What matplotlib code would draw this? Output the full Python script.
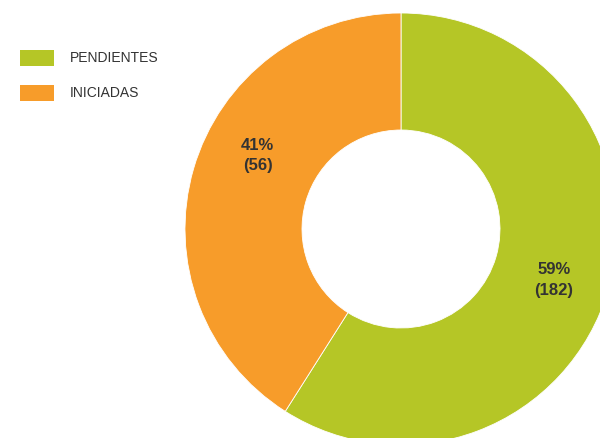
import numpy as np
import matplotlib.pyplot as plt
from matplotlib.patches import Patch

labels = ["PENDIENTES", "INICIADAS"]
percents = [59, 41]
counts = [182, 56]
colors = ["#b5c626", "#f79c2a"]
# angle (deg) of each value label inside the ring
label_angles = [-18.5, 152.8]

plt.rcParams['font.family'] = ['Liberation Sans Narrow', 'Liberation Sans', 'DejaVu Sans']

fig = plt.figure(figsize=(6, 4.38), dpi=100)
ax = fig.add_axes([0, 0, 1, 1])

cx, cy, r = 401, 229, 216
# y axis is inverted, so counterclock=True draws clockwise on screen
wedges, _ = ax.pie(percents, colors=colors, startangle=-90, counterclock=True,
                   center=(cx, cy), radius=r, frame=True,
                   wedgeprops=dict(width=r - 99, edgecolor='white', linewidth=0.6))
ax.set_xlim(0, 600)
ax.set_ylim(438, 0)
ax.set_aspect('equal')
ax.axis('off')

for p, c, a in zip(percents, counts, label_angles):
    t = np.deg2rad(a)
    rr = 161
    ax.text(cx + rr * np.cos(t), cy - rr * np.sin(t), f"{p}%\n({c})",
            ha='center', va='center', fontsize=12, fontweight='bold',
            color='#333333', linespacing=1.45)

handles = [Patch(facecolor=col, edgecolor='none') for col in colors]
leg = ax.legend(handles, labels, loc='upper left', bbox_to_anchor=(0.012, 0.915),
                frameon=False, handlelength=2.5, handleheight=1.4,
                handletextpad=1.1, labelspacing=1.35, fontsize=10,
                labelcolor='#333333')

fig.savefig('out.png', dpi=100)
